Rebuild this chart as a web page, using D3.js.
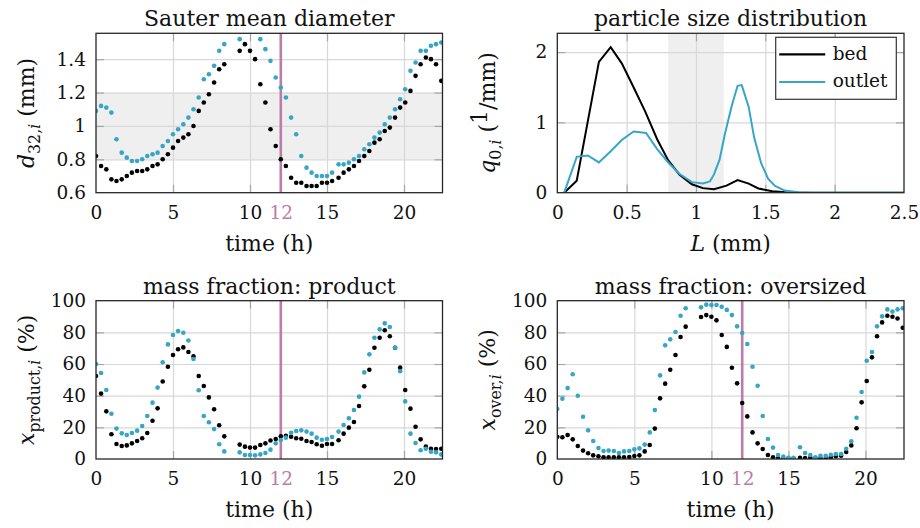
<!DOCTYPE html>
<html>
<head>
<meta charset="utf-8">
<script src="https://cdn.jsdelivr.net/npm/d3@7"></script>
<style>
body { margin: 0; background: #fff; }
svg text { font-family: "DejaVu Serif", serif; fill: #111; }
</style>
</head>
<body>
<div id="chart"></div>
<script>
// sampling times (h), same for all three time plots
var times = [0, 0.33, 0.67, 1, 1.33, 1.67, 2, 2.33, 2.67, 3,
	3.33, 3.67, 4, 4.33, 4.67, 5, 5.33, 5.67, 6, 6.33,
	6.67, 7, 7.33, 7.67, 8, 8.33, 8.67, 9, 9.33, 9.67,
	10, 10.33, 10.67, 11, 11.33, 11.67, 12, 12.33, 12.67, 13,
	13.33, 13.67, 14, 14.33, 14.67, 15, 15.33, 15.75, 16.08, 16.42,
	16.75, 17.08, 17.42, 17.75, 18.08, 18.42, 18.75, 19.08, 19.42, 19.75,
	20.08, 20.42, 20.75, 21.08, 21.42, 21.75, 22.08, 22.42];

// sauter mean diameter (mm)
var d32Bed = [0.82, 0.76, 0.74, 0.68, 0.67, 0.68, 0.70, 0.72, 0.73, 0.73,
	0.74, 0.76, 0.77, 0.80, 0.83, 0.87, 0.91, 0.93, 0.95, 1.00,
	1.09, 1.14, 1.19, 1.26, 1.34, 1.37, null, null, 1.45, 1.49,
	1.45, 1.40, 1.25, 1.14, 0.98, 0.88, 0.80, 0.76, 0.69, 0.66,
	0.66, 0.64, 0.64, 0.64, 0.66, 0.66, 0.67, 0.69, 0.72, 0.74,
	0.76, 0.79, 0.82, 0.85, 0.90, 0.92, 0.97, 0.99, 1.05, 1.11,
	1.14, 1.21, 1.30, 1.37, 1.41, 1.40, 1.37, 1.27];
var d32Out = [1.09, 1.12, 1.11, 1.08, 0.92, 0.84, 0.81, 0.79, 0.79, 0.80,
	0.82, 0.83, 0.84, 0.88, 0.91, 0.95, 0.98, 1.01, 1.05, 1.10,
	1.17, 1.28, 1.31, 1.36, 1.45, 1.49, null, null, 1.52, null,
	null, null, 1.52, 1.46, 1.39, 1.29, 1.23, 1.17, 1.05, 0.95,
	0.82, 0.75, 0.72, 0.70, 0.70, 0.70, 0.72, 0.77, 0.77, 0.78,
	0.80, 0.82, 0.86, 0.89, 0.93, 0.96, 1.01, 1.05, 1.10, 1.16,
	1.22, 1.33, 1.38, 1.45, 1.45, 1.48, 1.49, 1.50];

// mass fraction product (%)
var prodBed = [52.4, 41.3, 30.1, 15.6, 9.5, 8.2, 8.6, 9.9, 11.4, 13.1,
	16.4, 24.2, 32.0, 49.0, 58.3, 65.7, 69.3, 70.5, 67.6, 64.8,
	52.4, 46.1, 38.9, 31.4, 21.3, 14.3, null, null, 9.1, 7.8,
	7.2, 7.2, 8.8, 9.9, 11.7, 12.6, 14.3, 14.7, 14.1, 13.1,
	12.8, 11.4, 10.7, 9.3, 8.4, 9.5, 9.5, 11.8, 16.0, 19.8,
	23.4, 33.5, 45.9, 56.4, 70.3, 76.6, 81.3, 77.5, 70.3, 57.7,
	43.6, 31.8, 20.4, 12.4, 7.8, 6.5, 6.3, 6.5];
var prodOut = [60.0, 54.3, 43.6, 28.6, 19.2, 16.2, 15.2, 16.4, 17.9, 20.8,
	27.2, 35.6, 45.1, 61.1, 72.4, 78.3, 80.8, 79.8, 74.9, 63.2,
	43.4, 27.2, 23.2, 18.9, 9.3, 4.8, null, null, 4.2, 2.5,
	2.5, 2.3, 2.9, 3.8, 5.9, 9.9, 12.0, 13.5, 16.6, 17.7,
	18.1, 17.3, 16.0, 13.5, 12.2, 12.6, 13.9, 17.3, 21.5, 25.7,
	31.0, 39.4, 54.7, 66.1, 76.6, 81.9, 85.7, 83.4, 70.3, 55.4,
	36.4, 16.0, 10.1, 5.5, 6.5, 4.6, 4.2, 2.9];

// mass fraction oversized (%)
var overBed = [14.1, 13.7, 15.2, 12.4, 8.2, 5.3, 3.6, 2.3, 1.7, 1.1,
	1.1, 1.1, 1.1, 1.1, 1.3, 1.9, 2.3, 4.8, 8.8, 19.2,
	38.3, 47.6, 56.4, 65.7, 77.1, 83.6, null, null, 89.7, 90.9,
	89.9, 87.6, 78.3, 70.8, 57.6, 47.8, 35.4, 26.9, 16.8, 9.9,
	6.3, 2.5, 1.1, 0.4, 0.2, 0.3, 0.3, 0.8, 0.6, 0.8,
	0.6, 0.4, 0.4, 1.1, 1.7, 2.1, 4.4, 8.6, 19.4, 35.8,
	49.3, 64.2, 77.5, 86.3, 90.5, 89.9, 88.8, 82.9];
var overOut = [31.6, 38.1, 44.8, 53.5, 40.0, 26.7, 18.1, 11.4, 6.9, 5.1,
	5.3, 5.1, 3.8, 4.8, 5.1, 6.1, 6.7, 9.1, 16.8, 30.9,
	52.8, 71.8, 75.6, 80.2, 90.5, 95.2, null, null, 95.8, 97.5,
	97.3, 97.3, 96.2, 94.2, 90.9, 83.8, 79.6, 72.6, 58.3, 46.3,
	27.2, 12.6, 7.2, 2.5, 1.5, 0.8, 0.8, 7.4, 3.8, 2.5,
	1.0, 2.1, 2.1, 2.7, 3.2, 3.2, 6.5, 11.2, 26.1, 42.3,
	62.1, 67.6, 83.8, 90.1, 94.5, 93.1, 94.5, 95.2];

// particle size distribution q0 at 12 h
var sizeBed = [0.05, 0.14, 0.30, 0.385, 0.465, 0.55, 0.635, 0.72, 0.80, 0.88, 0.97, 1.05, 1.13, 1.22, 1.30, 1.38, 1.45, 1.55, 1.65, 1.75, 2.5];
var qBed = [0, 0.17, 1.86, 2.07, 1.84, 1.50, 1.15, 0.76, 0.46, 0.26, 0.12, 0.065, 0.05, 0.10, 0.18, 0.13, 0.06, 0.02, 0.005, 0, 0];
var sizeOut = [0.05, 0.14, 0.22, 0.30, 0.385, 0.465, 0.55, 0.64, 0.72, 0.80, 0.88, 0.97, 1.05, 1.10, 1.13, 1.17, 1.21, 1.26, 1.30, 1.33, 1.38, 1.42, 1.47, 1.52, 1.57, 1.64, 1.74, 1.85, 2.5];
var qOut = [0, 0.51, 0.53, 0.43, 0.59, 0.75, 0.87, 0.85, 0.62, 0.43, 0.27, 0.15, 0.13, 0.16, 0.26, 0.47, 0.85, 1.25, 1.52, 1.53, 1.22, 0.78, 0.42, 0.20, 0.095, 0.03, 0.005, 0, 0];

var timeTicks = [0, 5, 10, 12, 15, 20];
var timeGrid = [5, 10, 15, 20];
var markTime = 12;
var legendNames = ["bed", "outlet"];

var BLUE = "#35a6c6", MAUVE = "#bb7da8", GRID = "#d8d8d8", TICK = "#a6a6a6", BAND = "#efefef";

var svg = d3.select("#chart").append("svg")
	.attr("width", 920)
	.attr("height", 528);

//writing text with italic parts and subscripts
function richText(sel, parts, size) {
	var cur = 0;
	parts.forEach(function(p) {
		var shift = p.sub ? 6 : 0;
		sel.append("tspan")
			.text(p.t)
			.attr("dy", shift - cur)
			.style("font-size", (p.sub ? size * 0.72 : size) + "px")
			.style("font-style", p.it ? "italic" : "normal")
			.attr("baseline-shift", p.sup ? "35%" : null);
		cur = shift;
	});
}

function drawPanel(o) {
	var x = d3.scaleLinear().domain(o.xDomain).range([o.left, o.right]);
	var y = d3.scaleLinear().domain(o.yDomain).range([o.bottom, o.top]);
	var w = o.right - o.left, h = o.bottom - o.top;
	var g = svg.append("g");

	svg.append("clipPath").attr("id", "clip" + o.id)
		.append("rect").attr("x", o.left).attr("y", o.top).attr("width", w).attr("height", h);

	//grey band
	if (o.yBand) {
		g.append("rect").attr("x", o.left).attr("width", w)
			.attr("y", y(o.yBand[1])).attr("height", y(o.yBand[0]) - y(o.yBand[1]))
			.attr("fill", BAND);
	}
	if (o.xBand) {
		g.append("rect").attr("y", o.top).attr("height", h)
			.attr("x", x(o.xBand[0])).attr("width", x(o.xBand[1]) - x(o.xBand[0]))
			.attr("fill", BAND);
	}

	//grid lines
	g.append("g").attr("transform", "translate(0," + o.bottom + ")")
		.call(d3.axisBottom(x).tickValues(o.xGrid).tickSize(-h).tickFormat(""))
		.call(function(a) { a.select(".domain").remove(); a.selectAll("line").attr("stroke", GRID).attr("stroke-width", 1.2); });
	g.append("g").attr("transform", "translate(" + o.left + ",0)")
		.call(d3.axisLeft(y).tickValues(o.yGrid).tickSize(-w).tickFormat(""))
		.call(function(a) { a.select(".domain").remove(); a.selectAll("line").attr("stroke", GRID).attr("stroke-width", 1.2); });

	//small tick marks inside the frame
	var tk = 8;
	var tickAxes = [
		[d3.axisBottom(x).tickValues(o.xGrid), "translate(0," + o.bottom + ")"],
		[d3.axisTop(x).tickValues(o.xGrid), "translate(0," + o.top + ")"],
		[d3.axisLeft(y).tickValues(o.yGrid), "translate(" + o.left + ",0)"],
		[d3.axisRight(y).tickValues(o.yGrid), "translate(" + o.right + ",0)"]
	];
	tickAxes.forEach(function(t) {
		g.append("g").attr("transform", t[1])
			.call(t[0].tickSize(-tk).tickFormat(""))
			.call(function(a) { a.select(".domain").remove(); a.selectAll("line").attr("stroke", TICK).attr("stroke-width", 1.2); });
	});

	//data
	var dataG = g.append("g").attr("clip-path", "url(#clip" + o.id + ")");
	o.draw(dataG, x, y);

	//frame
	g.append("rect").attr("x", o.left).attr("y", o.top).attr("width", w).attr("height", h)
		.attr("fill", "none").attr("stroke", "#262626").attr("stroke-width", 1.3);

	//tick labels
	g.append("g").attr("transform", "translate(0," + o.bottom + ")")
		.call(d3.axisBottom(x).tickValues(o.xTicks).tickSize(0).tickFormat(d3.format("")))
		.call(function(a) {
			a.select(".domain").remove();
			a.selectAll("text").attr("y", 26).attr("dy", 0).style("font-size", "18.5px")
				.style("font-family", "DejaVu Serif")
				.attr("fill", function(d) { return (o.mark && d === markTime) ? MAUVE : "#111"; })
				.style("fill", function(d) { return (o.mark && d === markTime) ? MAUVE : "#111"; });
		});
	g.append("g").attr("transform", "translate(" + o.left + ",0)")
		.call(d3.axisLeft(y).tickValues(o.yTicks).tickSize(0).tickPadding(10).tickFormat(d3.format("")))
		.call(function(a) {
			a.select(".domain").remove();
			a.selectAll("text").style("font-size", "18.5px").style("font-family", "DejaVu Serif");
		});

	//title and axis labels
	g.append("text").attr("x", (o.left + o.right) / 2).attr("y", o.top - 7)
		.attr("text-anchor", "middle").style("font-size", "22px").text(o.title);
	richText(g.append("text").attr("x", (o.left + o.right) / 2).attr("y", o.bottom + 58)
		.attr("text-anchor", "middle"), o.xLabel, 22);
	richText(g.append("text")
		.attr("transform", "translate(" + (o.left - 62) + "," + ((o.top + o.bottom) / 2) + ") rotate(-90)")
		.attr("text-anchor", "middle"), o.yLabel, 22);

	return g;
}

//scatter of bed (black) and outlet (blue) points
function dotsDraw(bed, out, withMark) {
	return function(gd, x, y) {
		if (withMark) {
			gd.append("line").attr("x1", x(markTime)).attr("x2", x(markTime))
				.attr("y1", y.range()[0]).attr("y2", y.range()[1])
				.attr("stroke", MAUVE).attr("stroke-width", 2.6);
		}
		[[bed, "#000"], [out, BLUE]].forEach(function(s) {
			gd.selectAll(null)
				.data(times.map(function(t, i) { return {t: t, v: s[0][i]}; }).filter(function(d) { return d.v !== null; }))
				.enter().append("circle")
				.attr("cx", function(d) { return x(d.t); })
				.attr("cy", function(d) { return y(d.v); })
				.attr("r", 2.3)
				.attr("fill", s[1]);
		});
	};
}

var timeLabel = [{t: "time (h)"}];
var L1 = 96, R1 = 442.5, L2 = 557.3, R2 = 904;
var T1 = 33.3, B1 = 192.7, T2 = 300.7, B2 = 459;

drawPanel({
	id: 1, left: L1, right: R1, top: T1, bottom: B1,
	xDomain: [0, 22.5], yDomain: [0.6, 1.555],
	xGrid: timeGrid, yGrid: [0.8, 1, 1.2, 1.4],
	xTicks: timeTicks, yTicks: [0.6, 0.8, 1, 1.2, 1.4], mark: true,
	yBand: [0.8, 1.2],
	title: "Sauter mean diameter",
	xLabel: timeLabel,
	yLabel: [{t: "d", it: true}, {t: "32,", sub: true}, {t: "i", sub: true, it: true}, {t: " (mm)"}],
	draw: dotsDraw(d32Bed, d32Out, true)
});

var psd = drawPanel({
	id: 2, left: L2, right: R2, top: T1, bottom: B1,
	xDomain: [0, 2.5], yDomain: [0, 2.267],
	xGrid: [0.5, 1, 1.5, 2], yGrid: [1, 2],
	xTicks: [0, 0.5, 1, 1.5, 2, 2.5], yTicks: [0, 1, 2], mark: false,
	xBand: [0.8, 1.2],
	title: "particle size distribution",
	xLabel: [{t: "L", it: true}, {t: " (mm)"}],
	yLabel: [{t: "q", it: true}, {t: "0,", sub: true}, {t: "i", sub: true, it: true}, {t: " ("}, {t: "1", sup: true}, {t: "/mm)"}],
	draw: function(gd, x, y) {
		var line = d3.line()
			.x(function(d) { return x(d[0]); })
			.y(function(d) { return y(d[1]); })
			.curve(d3.curveLinear);
		gd.append("path").attr("d", line(sizeBed.map(function(s, i) { return [s, qBed[i]]; })))
			.attr("fill", "none").attr("stroke", "#000").attr("stroke-width", 2);
		gd.append("path").attr("d", line(sizeOut.map(function(s, i) { return [s, qOut[i]]; })))
			.attr("fill", "none").attr("stroke", BLUE).attr("stroke-width", 2);
	}
});

//legend box
var lg = psd.append("g").attr("transform", "translate(" + (R2 - 128.3) + "," + (T1 + 4) + ")");
lg.append("rect").attr("width", 120.6).attr("height", 62)
	.attr("fill", "#fff").attr("stroke", "#333").attr("stroke-width", 1.2);
legendNames.forEach(function(n, i) {
	var yy = 17 + i * 27.7;
	lg.append("line").attr("x1", 3.5).attr("x2", 49.5).attr("y1", yy).attr("y2", yy)
		.attr("stroke", i === 0 ? "#000" : BLUE).attr("stroke-width", 2.2);
	lg.append("text").attr("x", 57).attr("y", yy + 5.5).style("font-size", "18.5px").text(n);
});

drawPanel({
	id: 3, left: L1, right: R1, top: T2, bottom: B2,
	xDomain: [0, 22.5], yDomain: [0, 100],
	xGrid: timeGrid, yGrid: [20, 40, 60, 80],
	xTicks: timeTicks, yTicks: [0, 20, 40, 60, 80, 100], mark: true,
	title: "mass fraction: product",
	xLabel: timeLabel,
	yLabel: [{t: "x", it: true}, {t: "product,", sub: true}, {t: "i", sub: true, it: true}, {t: " (%)"}],
	draw: dotsDraw(prodBed, prodOut, true)
});

drawPanel({
	id: 4, left: L2, right: R2, top: T2, bottom: B2,
	xDomain: [0, 22.5], yDomain: [0, 100],
	xGrid: timeGrid, yGrid: [20, 40, 60, 80],
	xTicks: timeTicks, yTicks: [0, 20, 40, 60, 80, 100], mark: true,
	title: "mass fraction: oversized",
	xLabel: timeLabel,
	yLabel: [{t: "x", it: true}, {t: "over,", sub: true}, {t: "i", sub: true, it: true}, {t: " (%)"}],
	draw: dotsDraw(overBed, overOut, true)
});
</script>
</body>
</html>
